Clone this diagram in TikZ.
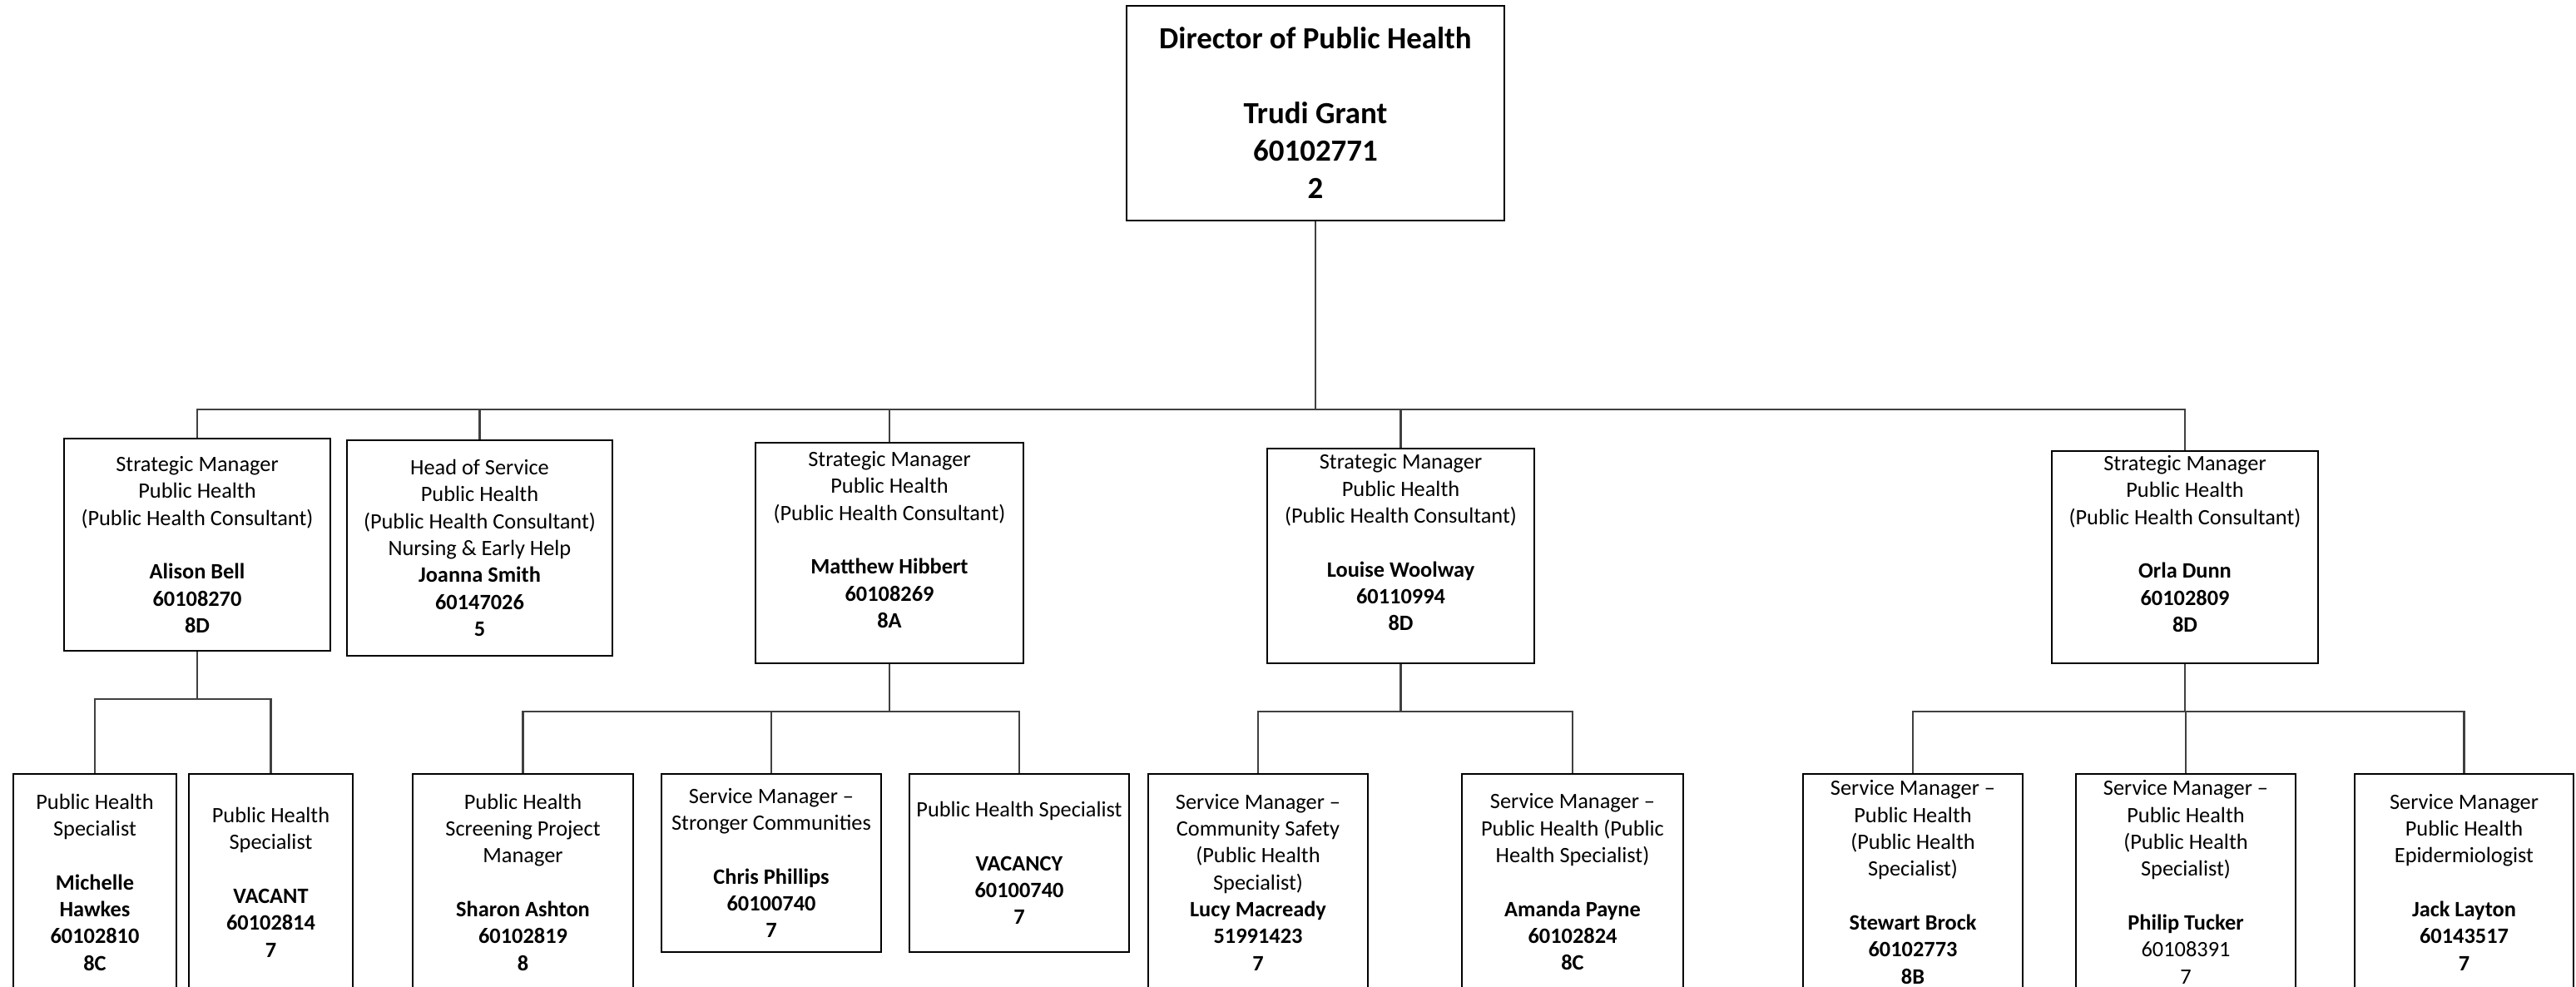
\documentclass[tikz,border=0pt]{standalone}
\usepackage{fontspec}
\setmainfont{Carlito}
\usepackage{tikz}

\begin{document}
\begin{tikzpicture}[
    post/.style={draw, line width=0.6pt, align=center, inner sep=0pt, font=\fontsize{7.5}{9.2}\selectfont},
    link/.style={line width=0.6pt, draw=black!75}]
\clip (0,0) rectangle (30.96,-11.85);

\node[post, minimum width=4.54cm, minimum height=2.58cm, font=\fontsize{10.5}{12.8}\selectfont\bfseries] (dph) at (15.81,-1.36)
    {Director of Public Health\\[12.8pt] Trudi Grant\\ 60102771\\ 2};

% strategic managers
\node[post, minimum width=3.20cm, minimum height=2.55cm] (bell) at (2.37,-6.545)
    {Strategic Manager\\ Public Health\\ (Public Health Consultant)\\[9.2pt] \textbf{Alison Bell}\\ \textbf{60108270}\\ \textbf{8D}};
\node[post, minimum width=3.19cm, minimum height=2.59cm] (smith) at (5.765,-6.585)
    {Head of Service\\ Public Health\\ (Public Health Consultant)\\ Nursing \& Early Help\\ \textbf{Joanna Smith}\\ \textbf{60147026}\\ \textbf{5}};
\node[post, minimum width=3.22cm, minimum height=2.65cm] (hibbert) at (10.69,-6.645)
    {Strategic Manager\\ Public Health\\ (Public Health Consultant)\\[9.2pt] \textbf{Matthew Hibbert}\\ \textbf{60108269}\\ \textbf{8A}\\ \mbox{}};
\node[post, minimum width=3.21cm, minimum height=2.58cm] (woolway) at (16.835,-6.68)
    {Strategic Manager\\ Public Health\\ (Public Health Consultant)\\[9.2pt] \textbf{Louise Woolway}\\ \textbf{60110994}\\ \textbf{8D}\\ \mbox{}};
\node[post, minimum width=3.20cm, minimum height=2.55cm] (dunn) at (26.26,-6.695)
    {Strategic Manager\\ Public Health\\ (Public Health Consultant)\\[9.2pt] \textbf{Orla Dunn}\\ \textbf{60102809}\\ \textbf{8D}\\ \mbox{}};

% specialists and service managers
\node[post, minimum width=1.96cm, minimum height=2.60cm] (hawkes) at (1.14,-10.60)
    {Public Health\\ Specialist\\[9.2pt] \textbf{Michelle}\\ \textbf{Hawkes}\\ \textbf{60102810}\\ \textbf{8C}};
\node[post, minimum width=1.97cm, minimum height=2.60cm] (vacant) at (3.255,-10.60)
    {Public Health\\ Specialist\\[9.2pt] \textbf{VACANT}\\ \textbf{60102814}\\ \textbf{7}};
\node[post, minimum width=2.65cm, minimum height=2.60cm] (ashton) at (6.285,-10.60)
    {Public Health\\ Screening Project\\ Manager\\[9.2pt] \textbf{Sharon Ashton}\\ \textbf{60102819}\\ \textbf{8}};
\node[post, minimum width=2.64cm, minimum height=2.14cm] (phillips) at (9.27,-10.37)
    {Service Manager --\\ Stronger Communities\\[9.2pt] \textbf{Chris Phillips}\\ \textbf{60100740}\\ \textbf{7}};
\node[post, minimum width=2.64cm, minimum height=2.14cm] (vacancy) at (12.25,-10.37)
    {Public Health Specialist\\[9.2pt] \textbf{VACANCY}\\ \textbf{60100740}\\ \textbf{7}};
\node[post, minimum width=2.64cm, minimum height=2.60cm] (macready) at (15.12,-10.60)
    {Service Manager --\\ Community Safety\\ (Public Health\\ Specialist)\\ \textbf{Lucy Macready}\\ \textbf{51991423}\\ \textbf{7}};
\node[post, minimum width=2.66cm, minimum height=2.60cm] (payne) at (18.90,-10.60)
    {Service Manager --\\ Public Health (Public\\ Health Specialist)\\[9.2pt] \textbf{Amanda Payne}\\ \textbf{60102824}\\ \textbf{8C}};
\node[post, minimum width=2.64cm, minimum height=2.60cm] (brock) at (22.99,-10.60)
    {Service Manager --\\ Public Health\\ (Public Health\\ Specialist)\\[9.2pt] \textbf{Stewart Brock}\\ \textbf{60102773}\\ \textbf{8B}};
\node[post, minimum width=2.64cm, minimum height=2.60cm] (tucker) at (26.27,-10.60)
    {Service Manager --\\ Public Health\\ (Public Health\\ Specialist)\\[9.2pt] \textbf{Philip Tucker}\\ 60108391\\ 7};
\node[post, minimum width=2.63cm, minimum height=2.60cm] (layton) at (29.615,-10.60)
    {Service Manager\\ Public Health\\ Epidermiologist\\[9.2pt] \textbf{Jack Layton}\\ \textbf{60143517}\\ \textbf{7}};

\foreach \n in {bell,smith,hibbert,woolway,dunn}
    \draw[link] (dph.south) -- ++(0,-2.26) -| (\n.north);

\foreach \p/\c in {bell/hawkes, bell/vacant, hibbert/ashton, hibbert/phillips, hibbert/vacancy,
        woolway/macready, woolway/payne, dunn/brock, dunn/tucker, dunn/layton}
    \draw[link] (\p.south) -- ++(0,-0.57) -| (\c.north);
\end{tikzpicture}
\end{document}
